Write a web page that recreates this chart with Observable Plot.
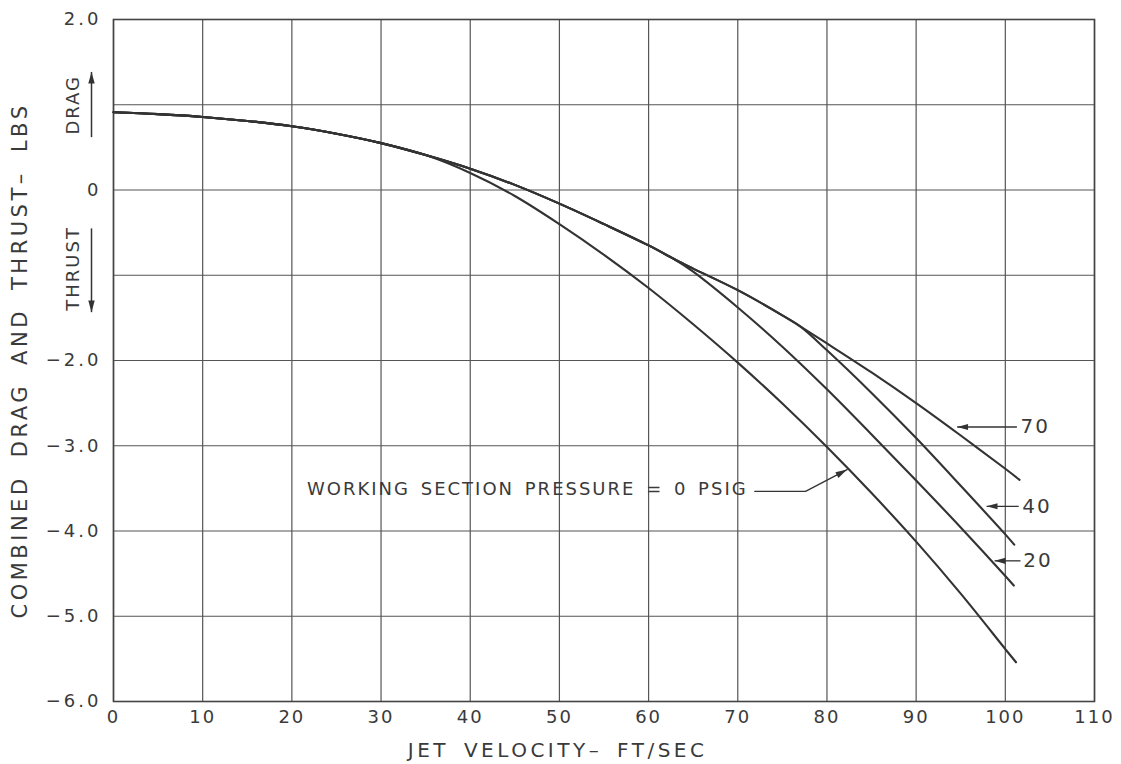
<!DOCTYPE html>
<html>
<head>
<meta charset="utf-8">
<script src="https://cdn.jsdelivr.net/npm/d3@7"></script>
<script src="https://cdn.jsdelivr.net/npm/@observablehq/plot@0.6"></script>
<style>
  body { margin: 0; background: #fff; }
  #chart svg text { letter-spacing: 2px; }
</style>
</head>
<body>
<div id="chart"></div>
<script>
// ---------- axis ticks ----------
const xTicks = [0, 10, 20, 30, 40, 50, 60, 70, 80, 90, 100, 110];
const yTicks = [2, 0, -2, -3, -4, -5, -6];
const yGrid = [2, 1, 0, -1, -2, -3, -4, -5, -6];

// ---------- series: jet velocity (ft/sec) vs combined drag & thrust (lbs) ----------
const pressures = ["0", "20", "40", "70"];

const vel0 = [0, 5, 10, 15, 20, 25, 30, 35, 40, 45, 50, 55, 60, 65, 70, 75, 80, 85, 90, 95, 100, 101.2];
const lbs0 = [0.912, 0.89, 0.857, 0.81, 0.748, 0.66, 0.55, 0.41, 0.20, -0.07, -0.40, -0.76, -1.15, -1.575, -2.025, -2.505, -3.015, -3.555, -4.125, -4.735, -5.385, -5.54];

const vel20 = [0, 5, 10, 15, 20, 25, 30, 35, 40, 45, 50, 55, 60, 63, 65, 70, 75, 80, 85, 90, 95, 100, 100.95];
const lbs20 = [0.912, 0.89, 0.857, 0.81, 0.748, 0.66, 0.55, 0.41, 0.25, 0.06, -0.16, -0.40, -0.65, -0.818, -0.958, -1.378, -1.838, -2.338, -2.868, -3.408, -3.958, -4.528, -4.64];

const vel40 = [0, 5, 10, 15, 20, 25, 30, 35, 40, 45, 50, 55, 60, 63, 65, 70, 75, 77, 80, 85, 90, 95, 100, 101];
const lbs40 = [0.912, 0.89, 0.857, 0.81, 0.748, 0.66, 0.55, 0.41, 0.25, 0.06, -0.16, -0.40, -0.65, -0.818, -0.922, -1.175, -1.47, -1.60, -1.88, -2.38, -2.91, -3.47, -4.04, -4.16];

const vel70 = [0, 5, 10, 15, 20, 25, 30, 35, 40, 45, 50, 55, 60, 63, 65, 70, 75, 77, 80, 85, 90, 95, 100, 101.6];
const lbs70 = [0.912, 0.89, 0.857, 0.81, 0.748, 0.66, 0.55, 0.41, 0.25, 0.06, -0.16, -0.40, -0.65, -0.818, -0.922, -1.175, -1.47, -1.60, -1.80, -2.14, -2.50, -2.88, -3.27, -3.40];

// ---------- annotations ----------
const curveLabels = ["70", "40", "20"];
const curveLabelX = [101.7, 101.9, 102.0];
const curveLabelY = [-2.78, -3.71, -4.35];
const curveArrowTail = [101.3, 101.5, 101.7];
const curveArrowTip = [94.6, 97.9, 98.8];

const baseLabel = "WORKING SECTION PRESSURE = 0 PSIG";
const baseLabelPos = [21.7, -3.515];
const leaderX = [71.9, 77.6, 82.26];
const leaderY = [-3.535, -3.535, -3.28];

const xTitle = "JET VELOCITY\u2013 FT/SEC";
const yTitle = "COMBINED DRAG AND THRUST\u2013 LBS";

// ---------- build table ----------
const seriesX = {"0": vel0, "20": vel20, "40": vel40, "70": vel70};
const seriesY = {"0": lbs0, "20": lbs20, "40": lbs40, "70": lbs70};
const rows = pressures.flatMap(p => seriesX[p].map((v, i) => ({p, v, f: seriesY[p][i]})));

// narrow filled arrowhead with tip at the origin, pointing up
const arrowHead = {
  draw(ctx, size) {
    const r = Math.sqrt(size / Math.PI);
    const L = r * 3.4, w = r * 0.95;
    ctx.moveTo(0, 0);
    ctx.lineTo(-w, L);
    ctx.lineTo(w, L);
    ctx.closePath();
  }
};

const ink = "#333";
const textInk = "#3a3a3a";
const fmtY = d => d === 0 ? "0" : d.toFixed(1).replace("-", "\u2212");

const chart = Plot.plot({
  width: 1121,
  height: 764,
  marginTop: 19,
  marginBottom: 63,
  marginLeft: 113,
  marginRight: 27,
  style: {fontFamily: "'DejaVu Sans', sans-serif", fontSize: "18px", color: textInk, background: "#fff"},
  x: {domain: [0, 110]},
  y: {domain: [-6, 2]},
  marks: [
    Plot.gridX(xTicks, {stroke: "#555", strokeOpacity: 1, strokeWidth: 1.2}),
    Plot.gridY(yGrid, {stroke: "#555", strokeOpacity: 1, strokeWidth: 1.2}),
    Plot.frame({stroke: "#444", strokeWidth: 1.6}),
    Plot.axisX({ticks: xTicks, tickSize: 0, tickPadding: 9, label: null, fontSize: 18, tickFormat: d => String(d)}),
    Plot.axisY({ticks: yTicks, tickSize: 0, tickPadding: 12, label: null, fontSize: 18, tickFormat: fmtY}),
    Plot.line(rows, {x: "v", y: "f", z: "p", stroke: ink, strokeWidth: 2.1, curve: "catmull-rom"}),
    // curve labels with leader arrows
    Plot.link(curveLabels, {x1: curveArrowTail, x2: curveArrowTip, y1: curveLabelY, y2: curveLabelY, stroke: ink, strokeWidth: 1.3}),
    Plot.dot(curveLabels, {x: curveArrowTip, y: curveLabelY, symbol: arrowHead, r: 3.2, fill: ink, stroke: "none", rotate: -90}),
    Plot.text(curveLabels, {x: curveLabelX, y: curveLabelY, text: d => d, textAnchor: "start", fontSize: 20, fill: textInk}),
    // base curve label
    Plot.text([baseLabel], {x: [baseLabelPos[0]], y: [baseLabelPos[1]], text: d => d, textAnchor: "start", fontSize: 18, fill: textInk}),
    Plot.line(leaderX.map((x, i) => ({x, y: leaderY[i]})), {x: "x", y: "y", stroke: ink, strokeWidth: 1.3}),
    Plot.dot([0], {x: [leaderX[2]], y: [leaderY[2]], symbol: arrowHead, r: 3.4, fill: ink, stroke: "none", rotate: 62}),
    // DRAG / THRUST indicators
    Plot.text(["DRAG"], {x: [0], y: [1.0], dx: -40, rotate: -90, fontSize: 18, fill: textInk}),
    Plot.text(["THRUST"], {x: [0], y: [-0.92], dx: -40, rotate: -90, fontSize: 18, fill: textInk}),
    Plot.link(["DRAG"], {x1: [0], x2: [0], y1: [0.62], y2: [1.385], dx: -22, stroke: ink, strokeWidth: 1.5}),
    Plot.dot(["DRAG"], {x: [0], y: [1.385], dx: -22, symbol: arrowHead, r: 3.4, fill: ink, stroke: "none", rotate: 0}),
    Plot.link(["THRUST"], {x1: [0], x2: [0], y1: [-0.45], y2: [-1.433], dx: -22, stroke: ink, strokeWidth: 1.5}),
    Plot.dot(["THRUST"], {x: [0], y: [-1.433], dx: -22, symbol: arrowHead, r: 3.4, fill: ink, stroke: "none", rotate: 180}),
    // axis titles
    Plot.text([xTitle], {x: [49.8], y: [-6], dy: 49, fontSize: 20, fill: textInk}),
    Plot.text([yTitle], {x: [0], y: [-2.0], dx: -93, rotate: -90, fontSize: 21, fill: textInk})
  ]
});

document.getElementById("chart").append(chart);

// lettering-guide style spacing for individual labels
const spacing = new Map([
  [xTitle, ["3.5px", "5px"]],
  [yTitle, ["3.5px", "8px"]],
  [baseLabel, ["2px", "3px"]],
  ["DRAG", ["2px", "0px"]],
  ["THRUST", ["2px", "0px"]]
]);
d3.select(chart).selectAll("text").each(function() {
  const s = spacing.get(this.textContent);
  if (s) d3.select(this).style("letter-spacing", s[0]).style("word-spacing", s[1]);
});
d3.select(chart).selectAll("g[aria-label='y-axis tick label'] text").style("letter-spacing", "3px");
</script>
</body>
</html>
